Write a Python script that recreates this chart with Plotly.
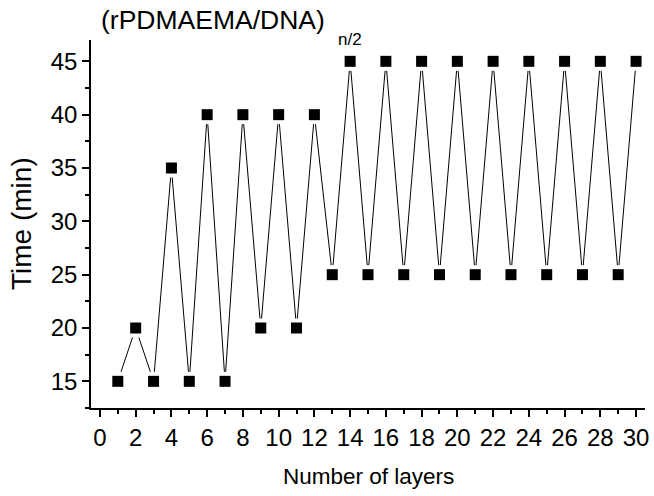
import plotly.graph_objects as go

layers = list(range(1, 31))
time_min = [15, 20, 15, 35, 15, 40, 15, 40, 20, 40, 20, 40, 25, 45, 25,
            45, 25, 45, 25, 45, 25, 45, 25, 45, 25, 45, 25, 45, 25, 45]

x_major = list(range(0, 31, 2))
y_major = [15, 20, 25, 30, 35, 40, 45]

FONT = "Liberation Sans, Arial, sans-serif"

fig = go.Figure()
fig.add_trace(go.Scatter(x=layers, y=time_min, mode="lines",
                         line=dict(color="black", width=1), hoverinfo="skip"))
fig.add_trace(go.Scatter(x=layers, y=time_min, mode="markers",
                         marker=dict(symbol="square", size=19, color="white"),
                         hoverinfo="skip"))
fig.add_trace(go.Scatter(x=layers, y=time_min, mode="markers",
                         marker=dict(symbol="square", size=11, color="black")))

axis_common = dict(showline=True, linecolor="black", linewidth=1.5,
                   ticks="outside", ticklen=7, tickwidth=1.5, tickcolor="black",
                   showgrid=False, zeroline=False, mirror=False, automargin=False,
                   tickfont=dict(family=FONT, size=24, color="black"))

fig.update_xaxes(range=[-0.5, 30.5], tickvals=x_major,
                 minor=dict(dtick=1, tick0=0, ticks="outside", ticklen=4,
                            tickwidth=1.5, tickcolor="black", showgrid=False),
                 **axis_common)
fig.update_yaxes(range=[12.5, 47], tickvals=y_major,
                 minor=dict(dtick=2.5, tick0=12.5, ticks="outside", ticklen=4,
                            tickwidth=1.5, tickcolor="black", showgrid=False),
                 **axis_common)

fig.add_annotation(text="Number of layers", xref="paper", x=0.5, xanchor="center",
                   yref="paper", y=0, yanchor="middle", yshift=-68,
                   showarrow=False, font=dict(family=FONT, size=22.5, color="black"))
fig.add_annotation(text="Time (min)", xref="paper", x=0, xanchor="center",
                   xshift=-70, yref="paper", y=0.5, yanchor="middle",
                   textangle=-90, showarrow=False,
                   font=dict(family=FONT, size=28, color="black"))
fig.add_annotation(text="(rPDMAEMA/DNA)", xref="x", x=-0.05,
                   xanchor="left", yref="paper", y=1.0, yanchor="middle",
                   yshift=20, showarrow=False,
                   font=dict(family=FONT, size=26.5, color="black"))
fig.add_annotation(text="n/2", xref="x", x=13.2,
                   xanchor="left", yref="paper", y=1.0, yanchor="middle",
                   yshift=1, showarrow=False,
                   font=dict(family=FONT, size=17, color="black"))

fig.update_layout(width=654, height=496, showlegend=False,
                  plot_bgcolor="white", paper_bgcolor="white",
                  margin=dict(l=91, r=9, t=40, b=88))

fig.write_html("out.html", config={"displayModeBar": False},
               post_script="document.body.style.margin='0';document.body.style.padding='0';")
